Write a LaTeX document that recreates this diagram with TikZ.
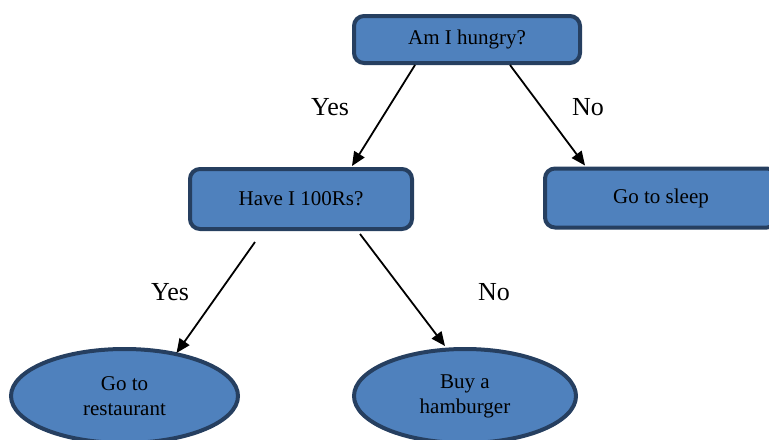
\documentclass[tikz,border=0pt]{standalone}
\usepackage{fontspec}
\setmainfont{Liberation Serif}
\usetikzlibrary{shapes.geometric, arrows.meta, calc}
\definecolor{boxfill}{HTML}{4F81BD}
\definecolor{boxline}{HTML}{263F60}
\begin{document}
\begin{tikzpicture}
	[%
	x=0.5pt, y=-0.5pt,%
	question/.style ={rectangle,	rounded corners=5pt,	draw=boxline,	fill=boxfill,	line width=2pt,	inner sep=0pt,	font=\fontsize{10.5}{12.6}\selectfont},%
	answer/.style ={ellipse,	draw=boxline,	fill=boxfill,	line width=2pt,	inner sep=0pt,	align=center,	font=\fontsize{10.5}{12.5}\selectfont},%
	choice/.style ={font=\fontsize{13}{15}\selectfont},%
	edge/.style ={line width=0.9pt, -{Triangle[length=7pt,width=6pt]}},%
	]

	\useasboundingbox (0,0) rectangle (769,439);
	\clip (0,0) rectangle (769,439);

	% nodes
	% questions
	\node (hungry) at (467,39.5) [question, minimum width=113pt, minimum height=23.5pt] {Am I hungry?};
	\node (money) at (301,199) [question, minimum width=111pt, minimum height=30pt] {Have I 100Rs?};
	% answers
	\node (sleep) at (661,198) [question, minimum width=116pt, minimum height=29.5pt] {Go to sleep};
	\node (rest) at (124.5,396) [answer, minimum width=113.5pt, minimum height=47pt] {Go to\\restaurant};
	\node (burger) at (465,396) [answer, minimum width=111pt, minimum height=47pt] {Buy a\\hamburger};

	% interconnections
	\draw [edge] ($(hungry.south)+(-52,0)$) -- ($(money.north)+(51,-1)$);
	\draw [edge] ($(hungry.south)+(43,0)$) -- ($(sleep.north)+(-76,-1)$);
	\draw [edge] ($(money.south)+(-46,11)$) -- ($(rest.north)+(52,6)$);
	\draw [edge] ($(money.south)+(59,3)$) -- ($(burger.north)+(-20,-1)$);

	% yes / no
	\foreach \n/\x/\y/\t in {y1/330/107/Yes, n1/588/107/No, y2/170/292/Yes, n2/494/292/No}
		\node (\n) at (\x,\y) [choice] {\t};

\end{tikzpicture}
\end{document}
